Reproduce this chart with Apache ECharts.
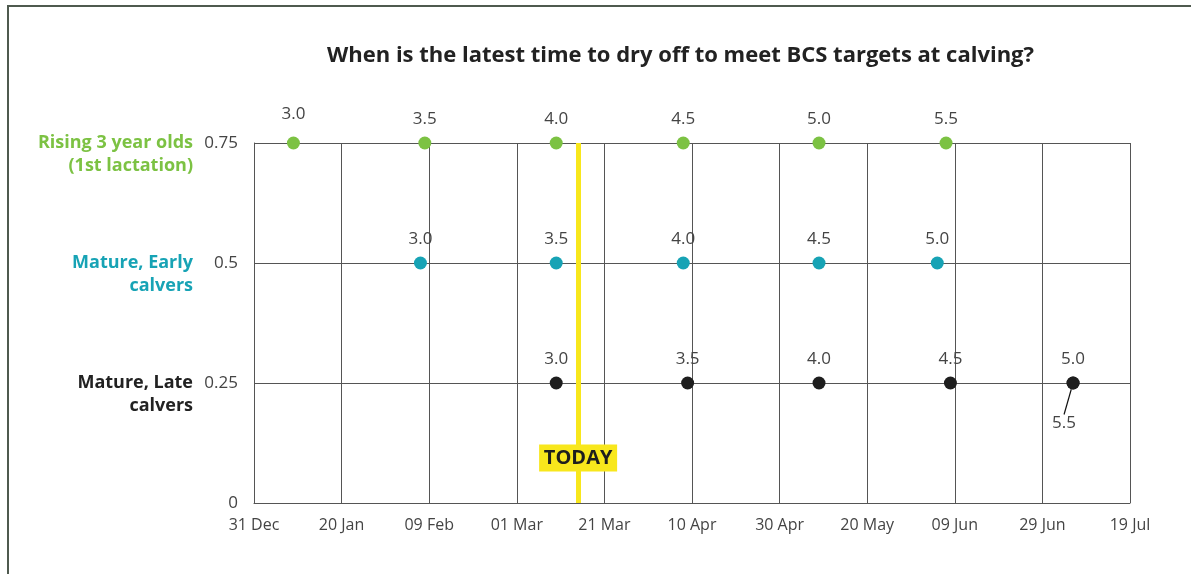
<!DOCTYPE html>
<html>
<head>
<meta charset="utf-8">
<script src="https://cdn.jsdelivr.net/npm/echarts@6/dist/echarts.min.js"></script>
<style>
  html, body { margin: 0; padding: 0; background: #fff; }
  #frame { position: absolute; left: 7px; top: 5px; width: 1300px; height: 700px;
           border-top: 2px solid #4f5a4f; border-left: 2px solid #4f5a4f; box-sizing: border-box; }
  #chart { position: absolute; left: 0; top: 0; width: 1191px; height: 574px; }
</style>
</head>
<body>
<div id="frame"></div>
<div id="chart"></div>
<script>
// ---------- data ----------
const startDate = '2017-12-31';
const endDate = '2018-07-19';
const tickStepDays = 20;
const todayDate = '2018-03-15';
const todayLabelY = 0.094;

const groupNames = ['Mature, Late calvers', 'Mature, Early calvers', 'Rising 3 year olds (1st lactation)'];
const groupLevels = [0.25, 0.5, 0.75];

const risingDates = ['2018-01-09', '2018-02-08', '2018-03-10', '2018-04-08', '2018-05-09', '2018-06-07'];
const risingBCS   = ['3.0', '3.5', '4.0', '4.5', '5.0', '5.5'];

const earlyDates  = ['2018-02-07', '2018-03-10', '2018-04-08', '2018-05-09', '2018-06-05'];
const earlyBCS    = ['3.0', '3.5', '4.0', '4.5', '5.0'];

const lateDates   = ['2018-03-10', '2018-04-09', '2018-05-09', '2018-06-08', '2018-07-06'];
const lateBCS     = ['3.0', '3.5', '4.0', '4.5', '5.0'];
const lateExtraDates = ['2018-07-06'];
const lateExtraBCS   = ['5.5'];

// ---------- helpers ----------
const DAY = 86400000;
function toMs(s) { const p = s.split('-').map(Number); return Date.UTC(p[0], p[1] - 1, p[2]); }
function dayOf(s) { return Math.round((toMs(s) - toMs(startDate)) / DAY); }
const MONTHS = ['Jan','Feb','Mar','Apr','May','Jun','Jul','Aug','Sep','Oct','Nov','Dec'];
function fmtDay(v) {
  const d = new Date(toMs(startDate) + v * DAY);
  const dd = String(d.getUTCDate()).padStart(2, '0');
  return dd + ' ' + MONTHS[d.getUTCMonth()];
}
function build(dates, labels, level) {
  return dates.map((d, i) => [dayOf(d), level, labels[i]]);
}

const GREEN = '#7cc243', TEAL = '#17a3b5', BLACK = '#1e1e1e', YELLOW = '#f8e71c';
const FONT = 'Open Sans';

const valueLabel = {
  show: true, position: 'top', distance: 9,
  formatter: p => p.value[2],
  color: '#444', fontSize: 17, fontFamily: FONT
};

const chart = echarts.init(document.getElementById('chart'), null, { renderer: 'canvas' });

const risingData = build(risingDates, risingBCS, groupLevels[2]);
risingData[0] = { value: risingData[0], label: { distance: 14 } };

chart.setOption({
  animation: false,
  backgroundColor: 'transparent',
  title: {
    text: 'When is the latest time to dry off to meet BCS targets at calving?',
    left: 322, top: 40,
    textStyle: { fontFamily: FONT, fontWeight: 'bold', fontSize: 22, color: '#222' }
  },
  grid: { left: 254, right: 61, top: 143, bottom: 71 },
  xAxis: {
    type: 'value',
    min: 0, max: dayOf(endDate), interval: tickStepDays,
    axisLine: { show: true, lineStyle: { color: '#555', width: 1 } },
    axisTick: { show: false },
    splitLine: { show: true, lineStyle: { color: '#555', width: 1 } },
    axisLabel: { formatter: fmtDay, color: '#444', fontSize: 16, fontFamily: FONT, margin: 14 }
  },
  yAxis: [{
    type: 'value', min: 0, max: 0.75, interval: 0.25,
    axisLine: { show: true, lineStyle: { color: '#555', width: 1 } },
    axisTick: { show: false },
    splitLine: { show: true, lineStyle: { color: '#555', width: 1 } },
    axisLabel: { color: '#444', fontSize: 17, fontFamily: FONT, margin: 16 }
  }, {
    type: 'value', min: 0, max: 0.75, interval: 0.25, position: 'left', offset: 45,
    axisLine: { show: false }, axisTick: { show: false }, splitLine: { show: false },
    axisLabel: {
      margin: 16, fontSize: 18, lineHeight: 23, fontFamily: FONT, fontWeight: 'bold', align: 'right',
      formatter: function (v) {
        const i = groupLevels.findIndex(l => Math.abs(l - v) < 1e-9);
        if (i < 0) return '';
        const key = ['k', 't', 'g'][i];
        const name = groupNames[i];
        let lines;
        if (i === 2) lines = ['Rising 3 year olds', '(1st lactation)'];
        else { const c = name.lastIndexOf(' '); lines = [name.slice(0, c), name.slice(c + 1)]; }
        return '{' + key + '| }\n{' + key + '|' + lines[0] + '}\n{' + key + '|' + lines[1] + '}';
      },
      rich: {
        g: { color: GREEN, fontWeight: 'bold', fontSize: 18, lineHeight: 23, fontFamily: FONT, align: 'right' },
        t: { color: TEAL, fontWeight: 'bold', fontSize: 18, lineHeight: 23, fontFamily: FONT, align: 'right' },
        k: { color: '#222', fontWeight: 'bold', fontSize: 18, lineHeight: 23, fontFamily: FONT, align: 'right' }
      }
    }
  }],
  series: [
    {
      name: 'today', type: 'scatter', data: [], z: 1,
      markLine: {
        silent: true, symbol: 'none',
        lineStyle: { color: YELLOW, width: 5, type: 'solid' },
        label: { show: false },
        data: [{ xAxis: dayOf(todayDate) }]
      },
      markPoint: {
        silent: true, symbol: 'rect', symbolSize: [78, 27],
        itemStyle: { color: YELLOW },
        label: { show: true, formatter: 'TODAY', color: '#1e1e1e', fontWeight: 'bold', fontSize: 20, fontFamily: FONT },
        data: [{ coord: [dayOf(todayDate), todayLabelY] }]
      }
    },
    {
      name: groupNames[2], type: 'scatter', symbolSize: 13, z: 5,
      itemStyle: { color: GREEN, opacity: 1 },
      label: valueLabel,
      data: risingData
    },
    {
      name: groupNames[1], type: 'scatter', symbolSize: 13, z: 5,
      itemStyle: { color: TEAL, opacity: 1 },
      label: valueLabel,
      data: build(earlyDates, earlyBCS, groupLevels[1])
    },
    {
      name: groupNames[0], type: 'scatter', symbolSize: 13, z: 5,
      itemStyle: { color: BLACK, opacity: 1 },
      label: valueLabel,
      data: build(lateDates, lateBCS, groupLevels[0])
    },
    {
      name: groupNames[0] + ' extra', type: 'scatter', symbolSize: 13, z: 5,
      itemStyle: { color: BLACK, opacity: 1 },
      label: Object.assign({}, valueLabel, { position: 'inside' }),
      labelLayout: { dx: -9, dy: 40 },
      labelLine: { show: true, lineStyle: { color: '#111', width: 1.2 } },
      data: build(lateExtraDates, lateExtraBCS, groupLevels[0])
    }
  ]
});
</script>
</body>
</html>
